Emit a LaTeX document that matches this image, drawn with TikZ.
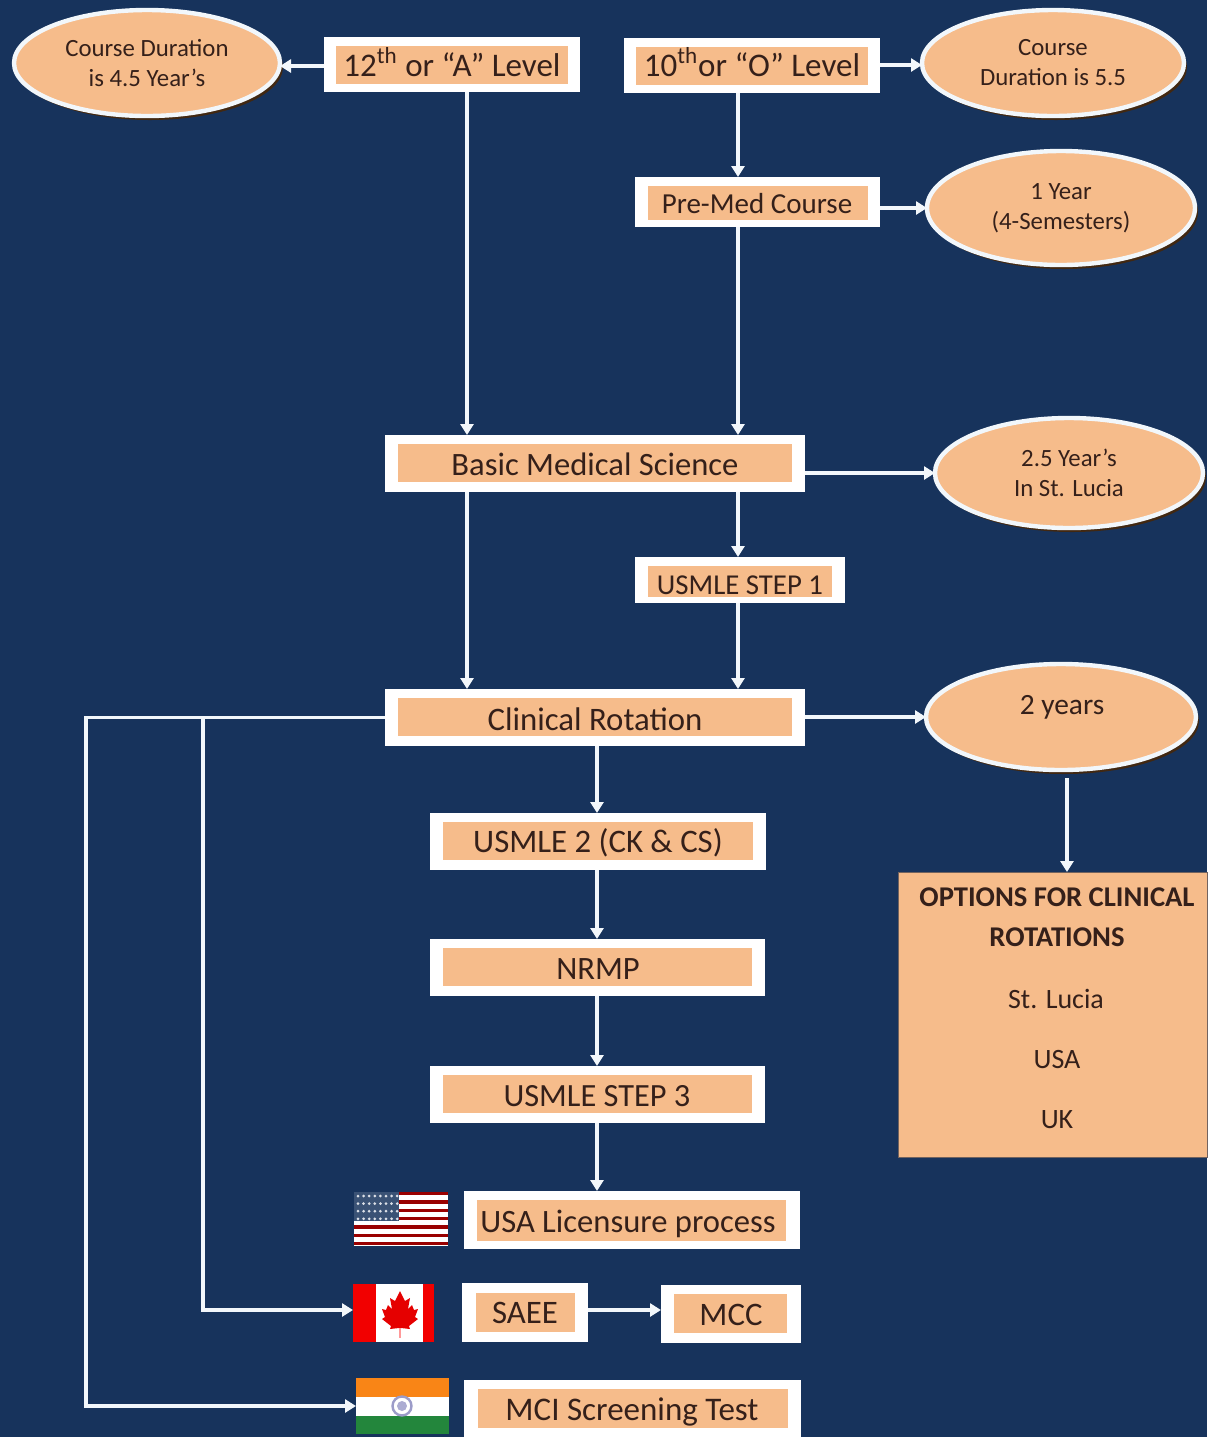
\documentclass[tikz,border=0pt]{standalone}
\usepackage{fontspec}
\setmainfont{Carlito}
\usetikzlibrary{arrows.meta,fit,shapes.geometric,shadows}
\definecolor{bgblue}{HTML}{17335C}
\definecolor{peach}{HTML}{F6BC8B}
\definecolor{inkbrown}{HTML}{35201A}
\definecolor{linewhite}{HTML}{F2F7FB}
\definecolor{indgreen}{HTML}{23863C}
\definecolor{indorange}{HTML}{F98516}
\tikzset{
  whitebox/.style={fill=white,inner sep=0pt,outer sep=0pt,draw=none},
  peachbox/.style={fill=peach,inner sep=0pt,outer sep=0pt,draw=none},
  lbl/.style={text=inkbrown,inner sep=0pt,outer sep=0pt,align=center},
  oval/.style={ellipse,fill=peach,draw=linewhite,line width=2.2pt,inner sep=0pt,outer sep=0pt,
    drop shadow={shadow xshift=1.5pt,shadow yshift=-2pt,fill=black!70!orange,opacity=.8}},
  arr/.style={draw=linewhite,line width=1.7pt,-{Triangle[length=5.5pt,width=6.5pt,fill=linewhite]}},
  flagnode/.style={inner sep=0pt,outer sep=0pt,draw=none}
}
% name, outer x0 y0 x1 y1, inner x0 y0 x1 y1
\newcommand{\stepbox}[9]{%
  \node[whitebox,fit={(#2,#3)(#4,#5)}] (#1) {};
  \node[peachbox,fit={(#6,#7)(#8,#9)}] (#1-in) {};
}
\newcommand{\txt}[5]{\node[lbl,font=\fontsize{#4}{#5}\selectfont] (#1) at #2 {#3};}
\begin{document}
\begin{tikzpicture}[x=0.5pt,y=-0.5pt]
\useasboundingbox (0,0) rectangle (1207,1437);
\fill[bgblue] (0,0) rectangle (1207,1437);
% column helpers
\coordinate (colA) at (467,0);
\coordinate (colB) at (738,0);
\coordinate (colC) at (597,0);
\coordinate (colD) at (1067,0);
\coordinate (colL1) at (86,0);
\coordinate (colL2) at (203,0);
\coordinate (rowCan) at (0,1310);
% boxes
\stepbox{alevel}{324}{37}{580}{92}{336}{46}{568}{84}
\stepbox{olevel}{624}{38}{880}{93}{636}{47}{868}{85}
\stepbox{premed}{635}{177}{880}{227}{648}{186}{868}{220}
\stepbox{basic}{385}{435}{805}{492}{398}{444}{792}{482}
\stepbox{stepone}{635}{557}{845}{603}{648}{566}{832}{597}
\stepbox{clinical}{385}{689}{805}{746}{398}{698}{792}{736}
\stepbox{usmletwo}{430}{813}{766}{870}{443}{822}{753}{860}
\stepbox{nrmp}{430}{939}{765}{996}{443}{948}{752}{986}
\stepbox{stepthree}{430}{1066}{765}{1123}{443}{1075}{752}{1113}
\stepbox{usalic}{464}{1191}{800}{1249}{477}{1200}{786}{1241}
\stepbox{saee}{462}{1283}{588}{1342}{476}{1293}{575}{1332}
\stepbox{mcc}{661}{1285}{801}{1343}{674}{1294}{787}{1333}
\stepbox{mci}{464}{1380}{801}{1442}{478}{1389}{788}{1428}
% box labels
\txt{t-alevel}{(452,62)}{12\textsuperscript{th} or “A” Level}{16.5pt}{20pt}
\txt{t-olevel}{(752,62)}{10\textsuperscript{th}or “O” Level}{16.5pt}{20pt}
\txt{t-premed}{(757,204)}{Pre-Med Course}{14.5pt}{18pt}
\txt{t-basic}{(595,464)}{Basic Medical Science}{16.3pt}{18pt}
\txt{t-stepone}{(740,585)}{USMLE STEP 1}{14.4pt}{16pt}
\txt{t-clinical}{(595,719)}{Clinical Rotation}{16.4pt}{18pt}
\txt{t-usmletwo}{(598,843)}{USMLE 2 (CK \& CS)}{16.4pt}{18pt}
\txt{t-nrmp}{(598,969)}{NRMP}{16.3pt}{18pt}
\txt{t-stepthree}{(597,1096)}{USMLE STEP 3}{16.2pt}{18pt}
\txt{t-usalic}{(628,1224)}{USA Licensure process}{16.3pt}{18pt}
\txt{t-saee}{(525,1313)}{SAEE}{16.4pt}{18pt}
\txt{t-mcc}{(731,1315)}{MCC}{16.4pt}{18pt}
\txt{t-mci}{(632,1412)}{MCI Screening Test}{16.5pt}{18pt}
% ovals
\node[oval,minimum width=133pt,minimum height=53pt] (ovone) at (147,63) {};
\node[oval,minimum width=131pt,minimum height=53pt] (ovtwo) at (1053,63) {};
\node[oval,minimum width=134pt,minimum height=57pt] (ovthree) at (1061,208) {};
\node[oval,minimum width=134pt,minimum height=55pt] (ovfour) at (1069,473) {};
\node[oval,minimum width=135pt,minimum height=53pt] (ovfive) at (1061,717) {};
\txt{t-ovone}{(147,63)}{Course Duration\\is 4.5 Year’s}{12.4pt}{15pt}
\txt{t-ovtwo}{(1053,63)}{Course\\Duration is 5.5}{12.4pt}{15pt}
\txt{t-ovthree}{(1061,208)}{1 Year\\(4-Semesters)}{12.4pt}{15pt}
\txt{t-ovfour}{(1069,473)}{2.5 Year’s\\In St. Lucia}{12.4pt}{15pt}
\txt{t-ovfive}{(1062,707)}{2 years}{14.7pt}{16pt}
% options box
\node[fill=peach,draw=inkbrown!70,line width=.5pt,inner sep=0pt,outer sep=0pt,fit={(898,872)(1207,1157)}] (options) {};
\node[lbl,font=\fontsize{14.3pt}{20pt}\selectfont\bfseries] (t-opt) at (1057,917) {OPTIONS FOR CLINICAL\\ROTATIONS};
\txt{t-lucia}{(1056,999)}{St. Lucia}{14pt}{16pt}
\txt{t-usa}{(1057,1060)}{USA}{14pt}{16pt}
\txt{t-uk}{(1057,1120)}{UK}{14pt}{16pt}
% USA flag
\node[flagnode,fill=white,fit={(354,1192)(448,1246)}] (flagusa) {};
\foreach \i in {0,2,...,12}{
  \fill[red!60!black] (354,{1192+\i*54/13}) rectangle (448,{1192+(\i+0.8)*54/13});
}
\fill[bgblue!85!white] (354,1192) rectangle (399,1221);
\foreach \r in {0,...,3}{
  \foreach \c in {0,...,7}{
    \fill[white!85!bgblue] ({358+\c*5.6},{1196+\r*7.6}) circle (1.5);
  }
}
% Canada flag
\node[flagnode,fill=white,fit={(353,1284)(434,1342)}] (flagcan) {};
\fill[red!95!black] (353,1284) rectangle (376,1342);
\fill[red!95!black] (423,1284) rectangle (434,1342);
\fill[red!90!black] (400,1291) -- (405,1301) -- (410,1298) -- (408,1309) -- (412,1305) -- (414,1310) -- (418,1309)
  -- (415,1317) -- (418,1319) -- (409,1326) -- (410,1329) -- (401,1328) -- (399,1328) -- (390,1329) -- (391,1326)
  -- (382,1319) -- (385,1317) -- (382,1309) -- (386,1310) -- (388,1305) -- (392,1309) -- (390,1298) -- (395,1301) -- cycle;
\draw[red!40!white,line width=.6pt] (400,1328) -- (400,1338);
% India flag
\node[flagnode,fill=white,fit={(356,1378)(449,1434)}] (flagind) {};
\fill[indorange] (356,1378) rectangle (449,1397);
\fill[indgreen] (356,1416) rectangle (449,1434);
\draw[blue!30!gray!60,line width=1.2pt] (402,1406) circle (9.5);
\fill[blue!30!gray!50] (402,1406) circle (5);
% connectors
\draw[arr] (alevel.west |- 0,66) -- (ovone.east |- 0,66);
\draw[arr] (olevel.east |- 0,65) -- (ovtwo.west |- 0,65);
\draw[arr] (olevel.south -| colB) -- (premed.north -| colB);
\draw[arr] (premed.east |- 0,208) -- (ovthree.west |- 0,208);
\draw[arr] (alevel.south -| colA) -- (basic.north -| colA);
\draw[arr] (premed.south -| colB) -- (basic.north -| colB);
\draw[arr] (basic.east |- ovfour.west) -- (ovfour.west);
\draw[arr] (basic.south -| colB) -- (stepone.north -| colB);
\draw[arr] (basic.south -| colA) -- (clinical.north -| colA);
\draw[arr] (stepone.south -| colB) -- (clinical.north -| colB);
\draw[arr] (clinical.east |- ovfive.west) -- (ovfive.west);
\draw[arr] (clinical.south -| colC) -- (usmletwo.north -| colC);
\draw[arr] (usmletwo.south -| colC) -- (nrmp.north -| colC);
\draw[arr] (nrmp.south -| colC) -- (stepthree.north -| colC);
\draw[arr] (stepthree.south -| colC) -- (usalic.north -| colC);
\draw[arr] (saee.east |- rowCan) -- (mcc.west |- rowCan);
\draw[arr] (ovfive.south -| colD) ++(0,8) -- (options.north -| colD);
\draw[arr] (clinical.west) -- (clinical.west -| colL1) -- (flagind.west -| colL1) -- (flagind.west);
\draw[arr] (clinical.west -| colL2) -- (rowCan -| colL2) -- (rowCan -| flagcan.west);
\end{tikzpicture}
\end{document}
